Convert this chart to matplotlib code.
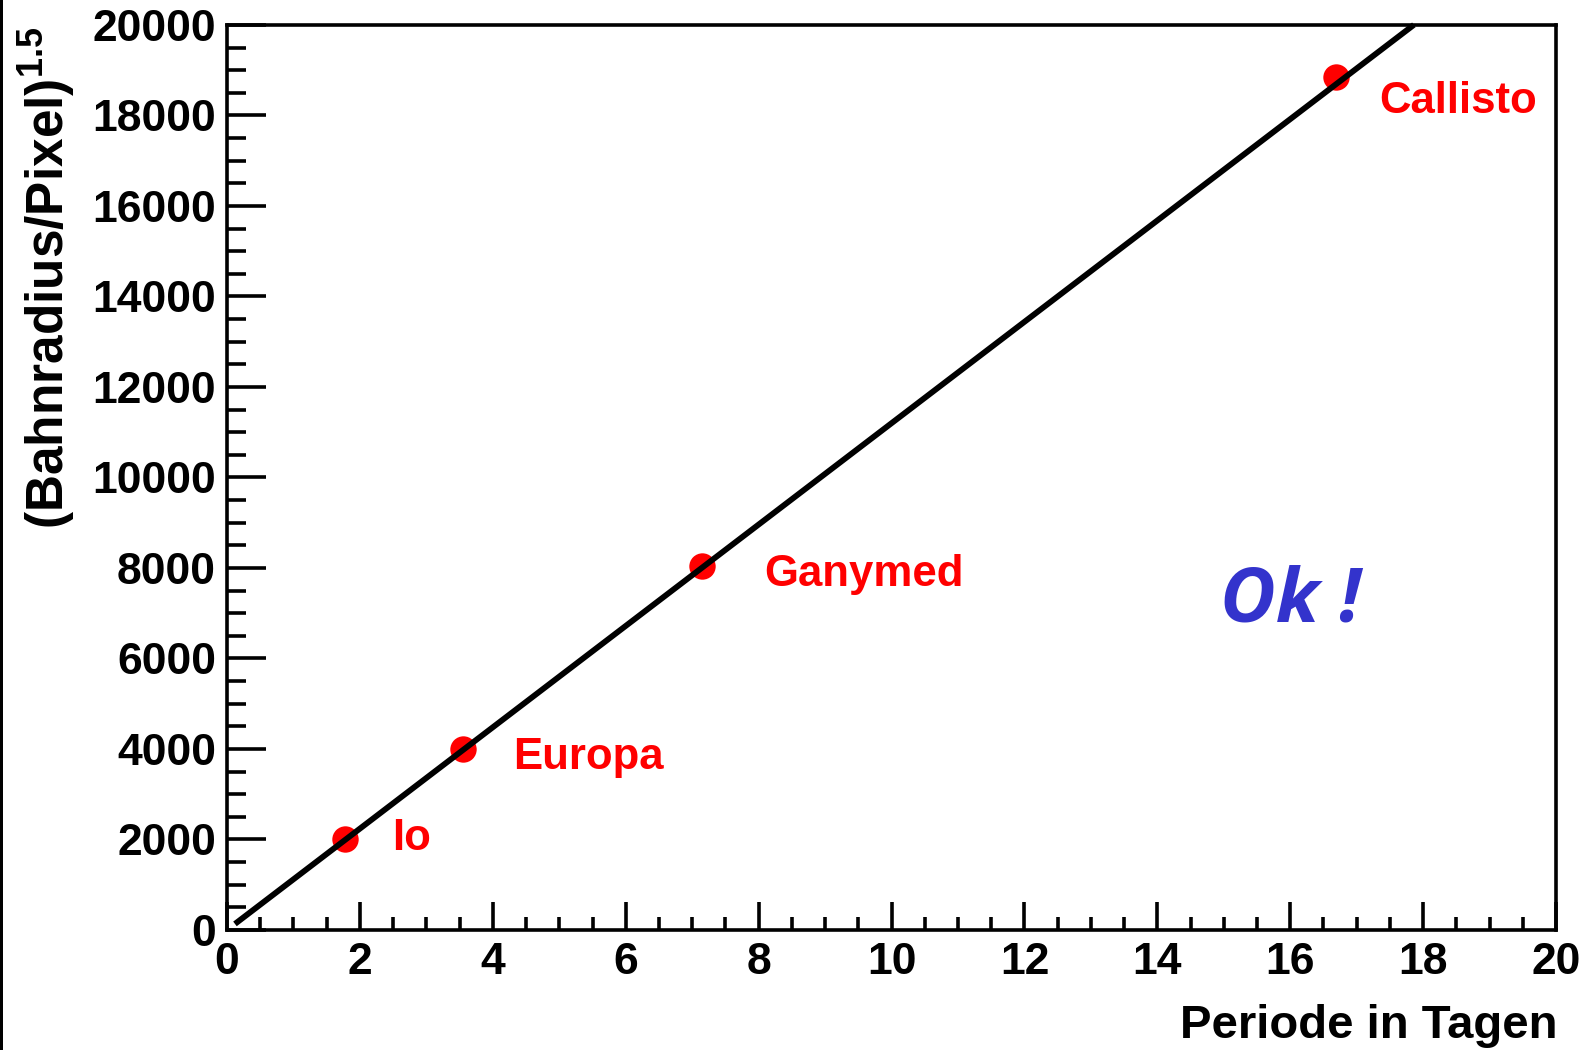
import matplotlib
matplotlib.use("Agg")
import matplotlib.pyplot as plt
from matplotlib.ticker import MultipleLocator
from matplotlib.patches import Rectangle
import numpy as np

# Jupitermonde: Umlaufperiode (Tage) gegen (Bahnradius/Pixel)^1.5
moons = ["Io", "Europa", "Ganymed", "Callisto"]
period_days = [1.77, 3.55, 7.15, 16.69]
radius_pow = [2000, 4000, 8050, 18850]

# Ursprungsgerade aus dem Fit
fit_slope = 1120.0
fit_xmin = 0.12
fit_xmax = 17.86

xticks = [0, 2, 4, 6, 8, 10, 12, 14, 16, 18, 20]
yticks = [0, 2000, 4000, 6000, 8000, 10000, 12000, 14000, 16000, 18000, 20000]

# Abstand der Beschriftung vom Punkt (Datenkoordinaten)
label_dx = [0.72, 0.75, 0.93, 0.65]
label_dy = [30, -190, -190, -550]

plt.rcParams['font.family'] = ['Liberation Sans', 'DejaVu Sans']
plt.rcParams['font.weight'] = 'bold'
plt.rcParams['mathtext.fontset'] = 'custom'
plt.rcParams['mathtext.rm'] = 'Liberation Sans:bold'
plt.rcParams['mathtext.default'] = 'rm'

fig = plt.figure(figsize=(15.83, 10.5), dpi=100)
ax = fig.add_axes([0.1434, 0.1143, 0.983 - 0.1434, 0.9762 - 0.1143])

fx = np.array([fit_xmin, fit_xmax])
ax.plot(fx, fit_slope * fx, color='black', lw=4.2, clip_on=False, zorder=3,
        solid_capstyle='butt')
ax.plot(period_days, radius_pow, 'o', color='#ff0000', ms=19, mec='none', zorder=2)

for name, x, y, dx, dy in zip(moons, period_days, radius_pow, label_dx, label_dy):
    ax.text(x + dx, y + dy, name, color='#ff0000', fontsize=31.5, fontweight='bold',
            ha='left', va='center')

ax.text(16.0, 7250, "Ok !", color='#3333cc', fontsize=55, fontweight='bold',
        fontstyle='italic', family=['Open Sans', 'DejaVu Sans'], ha='center', va='center')

ax.set_xlim(0, 20)
ax.set_ylim(0, 20000)
ax.set_xticks(xticks)
ax.set_yticks(yticks)
ax.xaxis.set_minor_locator(MultipleLocator(0.5))
ax.yaxis.set_minor_locator(MultipleLocator(500))

ax.tick_params(axis='both', which='both', direction='in', width=2.6, color='black',
               top=False, right=False)
ax.tick_params(axis='x', which='major', length=20, pad=9, labelsize=32)
ax.tick_params(axis='x', which='minor', length=9.5)
ax.tick_params(axis='y', which='major', length=28, pad=8, labelsize=32)
ax.tick_params(axis='y', which='minor', length=14)
for lab in ax.get_xticklabels() + ax.get_yticklabels():
    lab.set_fontweight('bold')

for s in ax.spines.values():
    s.set_linewidth(2.6)

fig.text(1557 / 1583, 1 - 1026 / 1050, "Periode in Tagen", fontsize=34,
         fontweight='bold', ha='right', va='center')
fig.text(47 / 1583, 1 - 26 / 1050, r"(Bahnradius/Pixel)$^{1.5}$", fontsize=37,
         fontweight='bold', rotation=90, ha='center', va='top')

# schmaler Rand links
fig.add_artist(Rectangle((0, 0), 3 / 1583, 1, transform=fig.transFigure,
                         color='black', lw=0))

fig.savefig("out.png", dpi=100)
